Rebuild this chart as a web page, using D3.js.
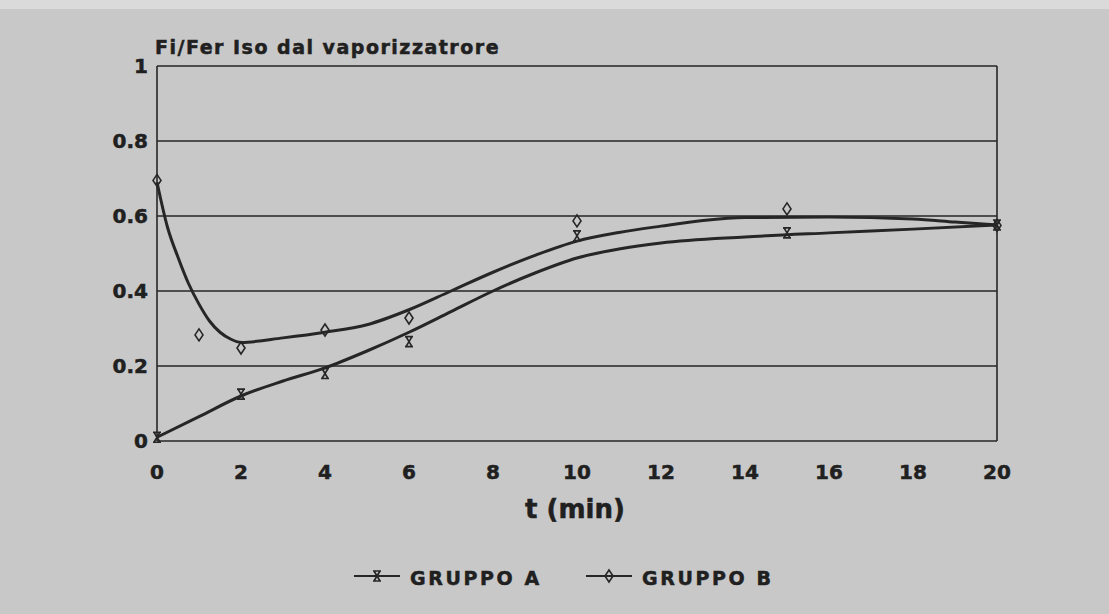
<!DOCTYPE html>
<html>
<head>
<meta charset="utf-8">
<script src="https://cdn.jsdelivr.net/npm/d3@7"></script>
<style>
  body { margin: 0; background: #c8c8c8; }
  svg { display: block; }
  text { font-family: "DejaVu Sans", sans-serif; font-weight: bold; fill: #202020; stroke: #202020; stroke-width: 0.5px; }
</style>
</head>
<body>
<svg id="chart" width="1109" height="614"></svg>
<script>
// measured points
var timesA = [0, 2, 4, 6, 10, 15, 20];
var valuesA = [0.01, 0.125, 0.18, 0.265, 0.547, 0.555, 0.576];
var timesB = [0, 1, 2, 4, 6, 10, 15, 20];
var valuesB = [0.695, 0.283, 0.248, 0.296, 0.328, 0.587, 0.619, 0.575];

// fitted curves
var fitTimesA = [0, 1, 2, 3, 4, 5, 6, 7, 8, 9, 10, 11, 12, 14, 16, 18, 20];
var fitValuesA = [0.01, 0.065, 0.12, 0.16, 0.195, 0.24, 0.29, 0.345, 0.40, 0.448, 0.488, 0.512, 0.528, 0.544, 0.555, 0.565, 0.576];
var fitTimesB = [0, 0.25, 0.5, 0.75, 1, 1.25, 1.5, 1.75, 2, 3, 4, 5, 6, 7, 8, 9, 10, 11, 12, 13, 14, 16, 18, 19, 20];
var fitValuesB = [0.69, 0.57, 0.49, 0.42, 0.365, 0.32, 0.29, 0.272, 0.263, 0.275, 0.29, 0.31, 0.35, 0.40, 0.45, 0.495, 0.533, 0.556, 0.573, 0.588, 0.596, 0.597, 0.592, 0.584, 0.576];

var xTicks = [0, 2, 4, 6, 8, 10, 12, 14, 16, 18, 20];
var yTicks = [0, 0.2, 0.4, 0.6, 0.8, 1];
var seriesNames = ["GRUPPO A", "GRUPPO B"];

var svg = d3.select("#chart");
var ink = "#262626";

svg.append("rect").attr("x", 0).attr("y", 0).attr("width", 1109).attr("height", 9).attr("fill", "#dadada");

var x = d3.scaleLinear().domain([0, 20]).range([157, 997]);
var y = d3.scaleLinear().domain([0, 1]).range([441, 66]);

// grid lines
svg.append("g").selectAll("line").data(yTicks).enter().append("line")
  .attr("x1", x(0)).attr("x2", x(20))
  .attr("y1", function(d){ return y(d); })
  .attr("y2", function(d){ return y(d); })
  .attr("stroke", ink).attr("stroke-width", 1.6);

// left / right frame
svg.append("line").attr("x1", x(0)).attr("x2", x(0)).attr("y1", y(0)).attr("y2", y(1))
  .attr("stroke", ink).attr("stroke-width", 1.6);
svg.append("line").attr("x1", x(20)).attr("x2", x(20)).attr("y1", y(0)).attr("y2", y(1))
  .attr("stroke", ink).attr("stroke-width", 1.6);

// tick labels
svg.append("g").selectAll("text").data(yTicks).enter().append("text")
  .attr("x", 148).attr("y", function(d){ return y(d) + 7; })
  .attr("text-anchor", "end").style("font-size", "20px")
  .text(function(d){ return d === 0 ? "0" : d === 1 ? "1" : d3.format(".1f")(d); });

svg.append("g").selectAll("text").data(xTicks).enter().append("text")
  .attr("x", function(d){ return x(d); }).attr("y", 479)
  .attr("text-anchor", "middle").style("font-size", "20px")
  .text(function(d){ return d; });

svg.append("text").attr("x", 155).attr("y", 54).style("font-size", "19px")
  .style("letter-spacing", "1.5px").text("Fi/Fer Iso dal vaporizzatrore");

svg.append("text").attr("x", 575).attr("y", 518).attr("text-anchor", "middle")
  .style("font-size", "26px").text("t (min)");

// curves
var line = d3.line()
  .x(function(d){ return x(d[0]); })
  .y(function(d){ return y(d[1]); })
  .curve(d3.curveMonotoneX);

svg.append("path").datum(d3.zip(fitTimesA, fitValuesA))
  .attr("d", line).attr("fill", "none").attr("stroke", ink).attr("stroke-width", 3);
svg.append("path").datum(d3.zip(fitTimesB, fitValuesB))
  .attr("d", line).attr("fill", "none").attr("stroke", ink).attr("stroke-width", 3);

// markers
function hourglass(g, cx, cy){
  g.append("path")
    .attr("d", "M" + (cx-4) + "," + (cy-5) + "h8 M" + (cx-4) + "," + (cy+5) + "h8" +
      " M" + (cx-3) + "," + (cy-5) + "L" + (cx+3) + "," + (cy+5) +
      " M" + (cx+3) + "," + (cy-5) + "L" + (cx-3) + "," + (cy+5))
    .attr("fill", "none").attr("stroke", ink).attr("stroke-width", 1.7);
}
function diamond(g, cx, cy){
  g.append("path")
    .attr("d", "M" + cx + "," + (cy-6) + "L" + (cx+4) + "," + cy + "L" + cx + "," + (cy+6) + "L" + (cx-4) + "," + cy + "Z")
    .attr("fill", "none").attr("stroke", ink).attr("stroke-width", 1.6);
}

var mk = svg.append("g");
timesA.forEach(function(t, i){ hourglass(mk, x(t), y(valuesA[i])); });
timesB.forEach(function(t, i){ diamond(mk, x(t), y(valuesB[i])); });

// legend
var legX = [354, 586];
seriesNames.forEach(function(name, i){
  var lx = legX[i];
  svg.append("line").attr("x1", lx).attr("x2", lx + 46).attr("y1", 576).attr("y2", 576)
    .attr("stroke", ink).attr("stroke-width", 2.2);
  if (i === 0) hourglass(svg, lx + 23, 576); else diamond(svg, lx + 23, 576);
  svg.append("text").attr("x", lx + 56).attr("y", 585).style("font-size", "19px")
    .style("letter-spacing", "2.6px").text(name);
});
</script>
</body>
</html>
